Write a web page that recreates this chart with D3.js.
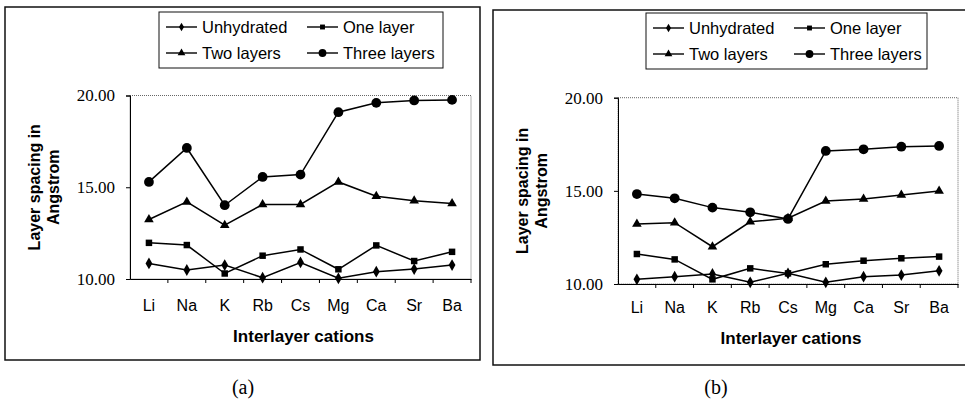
<!DOCTYPE html>
<html>
<head>
<meta charset="utf-8">
<script src="https://cdn.jsdelivr.net/npm/d3@7"></script>
<style>
  body { margin: 0; background: #fff; }
  svg { display: block; }
</style>
</head>
<body>
<svg width="965" height="400"></svg>
<script>
// Categories and series for both panels
const cations = ["Li", "Na", "K", "Rb", "Cs", "Mg", "Ca", "Sr", "Ba"];
const seriesNames = ["Unhydrated", "One layer", "Two layers", "Three layers"];
const yTicks = [10, 15, 20];

// panel (a)
const aUnhydrated = [10.85, 10.49, 10.76, 10.07, 10.90, 10.04, 10.40, 10.54, 10.76];
const aOneLayer = [11.97, 11.85, 10.30, 11.27, 11.61, 10.53, 11.83, 10.98, 11.48];
const aTwoLayers = [13.24, 14.20, 12.93, 14.06, 14.06, 15.29, 14.51, 14.26, 14.11];
const aThreeLayers = [15.29, 17.14, 14.02, 15.56, 15.69, 19.09, 19.60, 19.73, 19.76];

// panel (b)
const bUnhydrated = [10.25, 10.39, 10.54, 10.09, 10.57, 10.09, 10.39, 10.48, 10.71];
const bOneLayer = [11.61, 11.32, 10.25, 10.84, 10.57, 11.06, 11.25, 11.38, 11.47];
const bTwoLayers = [13.22, 13.29, 12.00, 13.34, 13.53, 14.45, 14.56, 14.78, 14.99];
const bThreeLayers = [14.83, 14.60, 14.10, 13.85, 13.49, 17.14, 17.23, 17.37, 17.41];

const symbols = [d3.symbolDiamond, d3.symbolSquare, d3.symbolTriangle, d3.symbolCircle];
const symSize = [40, 42, 40, 75];
const legSize = [22, 24, 26, 48];

const SANS = "'Liberation Sans', Arial, sans-serif";
const SERIF = "'Liberation Serif', 'Times New Roman', serif";

const svg = d3.select("svg");

function drawPanel(cfg) {
    let g = svg.append("g");

    // outer frame
    g.append("rect")
        .attr("x", cfg.box[0]).attr("y", cfg.box[1])
        .attr("width", cfg.box[2]).attr("height", cfg.box[3])
        .attr("fill", "none").attr("stroke", "#111").attr("stroke-width", 1.5);

    let p = cfg.plot;
    let x = d3.scaleBand().domain(cations).range([p.left, p.right]);
    let y = d3.scaleLinear().domain([10, 20]).range([p.bottom, p.top]);

    // plot area border (dotted grey)
    g.append("rect")
        .attr("x", p.left).attr("y", p.top)
        .attr("width", p.right - p.left).attr("height", p.bottom - p.top)
        .attr("fill", "none").attr("stroke", "#666")
        .attr("stroke-width", 1).attr("stroke-dasharray", "1,1");

    // y axis (serif tick labels like the original)
    let yAxis = g.append("g")
        .attr("transform", "translate(" + p.left + ",0)")
        .call(d3.axisLeft(y).tickValues(yTicks).tickSize(4).tickPadding(11)
            .tickFormat(d3.format(".2f")))
        .attr("font-family", SERIF)
        .attr("font-size", 17);
    yAxis.select(".domain").attr("stroke", "#000");
    yAxis.selectAll("text").attr("fill", "#000");

    // x axis: labels centred, ticks on band edges
    let xAxis = g.append("g")
        .attr("transform", "translate(0," + p.bottom + ")")
        .call(d3.axisBottom(x).tickSize(0).tickPadding(cfg.labelPad))
        .attr("font-family", SANS)
        .attr("font-size", 16);
    xAxis.select(".domain").attr("stroke", "#000");
    xAxis.selectAll("text").attr("fill", "#000");
    g.selectAll(".xtick")
        .data(cations.slice(1))
        .enter().append("line")
        .attr("x1", d => x(d)).attr("x2", d => x(d))
        .attr("y1", p.bottom).attr("y2", p.bottom + 4)
        .attr("stroke", "#000");
    g.append("line")
        .attr("x1", p.right).attr("x2", p.right)
        .attr("y1", p.bottom).attr("y2", p.bottom + 4)
        .attr("stroke", "#000");

    // series
    let line = d3.line()
        .x((d, i) => x(cations[i]) + x.bandwidth() / 2)
        .y(d => y(d));
    cfg.series.forEach((vals, s) => {
        g.append("path")
            .attr("d", line(vals))
            .attr("fill", "none").attr("stroke", "#000").attr("stroke-width", 1.5);
        g.selectAll(".m" + s)
            .data(vals)
            .enter().append("path")
            .attr("d", d3.symbol().type(symbols[s]).size(symSize[s]))
            .attr("transform", (d, i) => "translate(" + (x(cations[i]) + x.bandwidth() / 2) + "," + y(d) + ")")
            .attr("fill", "#000");
    });

    // axis titles
    g.append("text")
        .attr("x", (p.left + p.right) / 2 + 3)
        .attr("y", p.bottom + cfg.titleOff)
        .attr("text-anchor", "middle")
        .style("font-family", SANS)
        .attr("font-weight", "bold").attr("font-size", "17px")
        .text("Interlayer cations");
    let yMid = (p.top + p.bottom) / 2;
    [["Layer spacing in", -90], ["Angstrom", -71]].forEach(t => {
        g.append("text")
            .attr("transform", "translate(" + (p.left + t[1]) + "," + yMid + ") rotate(-90)")
            .attr("text-anchor", "middle")
            .style("font-family", SANS)
            .attr("font-weight", "bold").attr("font-size", "16px")
            .text(t[0]);
    });

    // legend
    let L = cfg.legend;
    g.append("rect")
        .attr("x", L[0]).attr("y", L[1]).attr("width", L[2]).attr("height", L[3])
        .attr("fill", "#fff").attr("stroke", "#111").attr("stroke-width", 1);
    seriesNames.forEach((name, s) => {
        let lx = L[0] + (s % 2 === 0 ? 7 : 148);
        let ly = L[1] + (s < 2 ? 15 : 41);
        g.append("line")
            .attr("x1", lx).attr("x2", lx + 31)
            .attr("y1", ly).attr("y2", ly)
            .attr("stroke", "#000").attr("stroke-width", 1.4);
        g.append("path")
            .attr("d", d3.symbol().type(symbols[s]).size(legSize[s]))
            .attr("transform", "translate(" + (lx + 15.5) + "," + ly + ")")
            .attr("fill", "#000");
        g.append("text")
            .attr("x", lx + 36).attr("y", ly + 6)
            .style("font-family", SANS)
            .attr("font-size", "16.5px").attr("fill", "#000")
            .text(name);
    });

    // caption
    g.append("text")
        .attr("x", cfg.caption).attr("y", 394)
        .attr("text-anchor", "middle")
        .style("font-family", SERIF)
        .attr("font-size", "20px")
        .text(cfg.label);
}

drawPanel({
    box: [5, 7, 475, 353],
    plot: {left: 130, top: 95.5, right: 471, bottom: 279},
    labelPad: 21, titleOff: 63,
    legend: [159, 12, 284, 56],
    series: [aUnhydrated, aOneLayer, aTwoLayers, aThreeLayers],
    caption: 243, label: "(a)"
});

drawPanel({
    box: [493, 10, 480, 355],
    plot: {left: 618, top: 97.7, right: 958, bottom: 284},
    labelPad: 18, titleOff: 60,
    legend: [646, 13, 281, 56],
    series: [bUnhydrated, bOneLayer, bTwoLayers, bThreeLayers],
    caption: 716, label: "(b)"
});
</script>
</body>
</html>
